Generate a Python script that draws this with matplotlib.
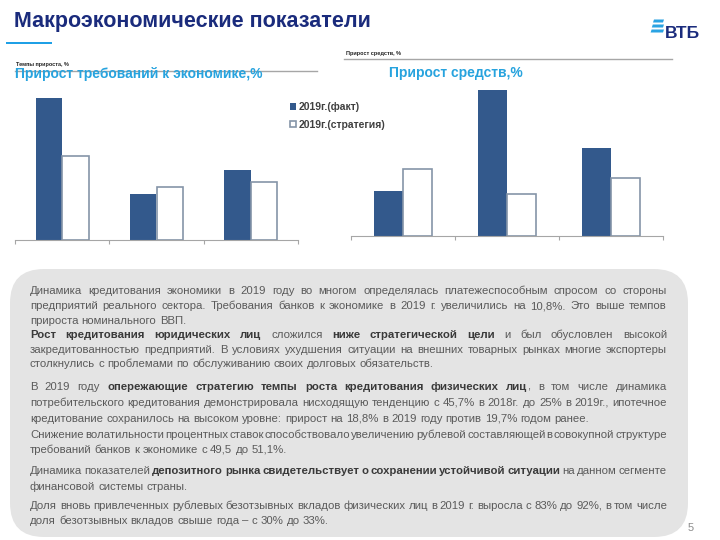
import matplotlib
matplotlib.use('Agg')
import matplotlib.pyplot as plt
from matplotlib import font_manager as fm
from matplotlib.patches import FancyBboxPatch, Rectangle, Polygon
import numpy as np

# data (no value labels in the original)
groups = ['Всего', 'Юридические лица', 'Физические лица']
series_labels = ['2019г.(факт)', '2019г.(стратегия)']
claims_fact = [22.0, 7.2, 10.8]
claims_plan = [13.1, 8.2, 9.0]
funds_fact = [4.5, 14.6, 8.8]
funds_plan = [6.7, 4.2, 5.8]

title = 'Макроэкономические показатели'
left_title = 'Прирост требований к экономике,%'
right_title = 'Прирост средств,%'

# text block: list of lines, each line = list of (text, bold); justify flag
body = [
    ([('Динамика кредитования экономики в 2019 году во многом определялась платежеспособным спросом со стороны', False)], True),
    ([('предприятий реального сектора. Требования банков к экономике в 2019 г. увеличились на 10,8%. Это выше темпов', False)], True),
    ([('прироста номинального ВВП.', False)], False),
    ([('Рост кредитования юридических лиц', True), (' сложился ', False), ('ниже стратегической цели', True),
      (' и был обусловлен высокой', False)], True),
    ([('закредитованностью предприятий. В условиях ухудшения ситуации на внешних товарных рынках многие экспортеры', False)], True),
    ([('столкнулись с проблемами по обслуживанию своих долговых обязательств.', False)], False),
    ([('В 2019 году ', False), ('опережающие стратегию темпы роста кредитования физических лиц', True),
      (', в том числе динамика', False)], True),
    ([('потребительского кредитования демонстрировала нисходящую тенденцию с 45,7% в 2018г. до 25% в 2019г., ипотечное', False)], True),
    ([('кредитование сохранилось на высоком уровне: прирост на 18,8% в 2019 году против 19,7% годом ранее.', False)], False),
    ([('Снижение волатильности процентных ставок способствовало увеличению рублевой составляющей в совокупной структуре', False)], True),
    ([('требований банков к экономике с 49,5 до 51,1%.', False)], False),
    ([('Динамика показателей ', False), ('депозитного рынка свидетельствует о сохранении устойчивой ситуации', True),
      (' на данном сегменте', False)], True),
    ([('финансовой системы страны.', False)], False),
    ([('Доля вновь привлеченных рублевых безотзывных вкладов физических лиц в 2019 г. выросла с 83% до 92%, в том числе', False)], True),
    ([('доля безотзывных вкладов свыше года – с 30% до 33%.', False)], False),
]
line_y = [290, 305.5, 320, 334, 349, 363.5, 386, 402, 418, 434, 449, 470, 486, 505, 520]


def has_font(name):
    try:
        fm.findfont(fm.FontProperties(family=name), fallback_to_default=False)
        return True
    except ValueError:
        return False


NARROW = has_font('Liberation Sans Narrow')
BODY_FONT = 'Liberation Sans Narrow' if NARROW else 'Liberation Sans'
BODY_FS = 9.6 if NARROW else 8.2
plt.rcParams['font.family'] = ['Liberation Sans', 'DejaVu Sans']

DARK = '#33598c'
EDGE = '#8595a8'
NAVY = '#1a2b7c'
SKY = '#27a3de'
GREY_LINE = '#a6a6a6'

W, H = 720, 540
fig = plt.figure(figsize=(7.2, 5.4), dpi=100)


def px_axes(x0, y0, x1, y1):
    # pixel box (top-left origin) -> figure axes
    return fig.add_axes([x0 / W, 1 - y1 / H, (x1 - x0) / W, (y1 - y0) / H])


# overlay for the slide decorations and text
ov = fig.add_axes([0, 0, 1, 1])
ov.set_xlim(0, W)
ov.set_ylim(H, 0)
ov.axis('off')

ov.text(14, 21, title, fontsize=15.5, fontweight='bold', color=NAVY, va='center', ha='left')
ov.add_patch(Rectangle((6, 41.5), 46, 2.8, color='#1fa0e6', lw=0))

# VTB logo
for k, yy in enumerate([19.5, 24.5, 29.5]):
    ov.add_patch(Polygon([(654 - k * 1.2, yy), (664, yy), (663, yy + 3), (653 - k * 1.2, yy + 3)],
                         closed=True, color='#2aa3e3', lw=0))
ov.text(665, 33, 'ВТБ', fontsize=15 if NARROW else 12.5, fontweight='bold', color=NAVY,
        family='Liberation Sans Narrow' if NARROW else 'Liberation Sans', va='center', ha='left')

# grey rules and small headers
ov.plot([15, 317], [70.7, 70.7], color=GREY_LINE, lw=1)
ov.plot([344, 672], [59, 59], color=GREY_LINE, lw=1)
ov.text(16, 64.5, 'Темпы прироста, %', fontsize=4, fontweight='bold', color='#222222', va='center')
ov.text(346, 53, 'Прирост средств, %', fontsize=4, fontweight='bold', color='#222222', va='center')
ov.text(15, 74, left_title, fontsize=10, fontweight='bold', color=SKY, va='center', ha='left')
ov.text(389, 73, right_title, fontsize=10, fontweight='bold', color=SKY, va='center', ha='left')

# text box
ov.add_patch(FancyBboxPatch((10 + 34, 269 + 34), 678 - 68, 268 - 68,
                            boxstyle='round,pad=34', fc='#e4e4e4', ec='none'))
ov.text(691, 528, '5', fontsize=8, color='#8c8c8c', va='center', ha='center')

renderer = fig.canvas.get_renderer()
X0, X1 = 30, 667
for (segs, justify), y in zip(body, line_y):
    tokens = []
    prev = ' '
    for txt, bold in segs:
        glue = len(tokens) > 0 and not txt.startswith(' ') and not prev.endswith(' ')
        for i, wd in enumerate(txt.split()):
            tokens.append((wd, bold, glue and i == 0))
        prev = txt
    arts, widths = [], []
    for wd, bold, _ in tokens:
        t = ov.text(0, y + 3.6, wd, fontsize=BODY_FS, family=BODY_FONT,
                    fontweight='bold' if bold else 'normal',
                    color='#3a3a3a' if bold else '#5a5a5a', va='baseline', ha='left')
        arts.append(t)
        widths.append(t.get_window_extent(renderer).width)
    ngaps = sum(1 for tk in tokens[1:] if not tk[2])
    if justify and ngaps:
        gap = (X1 - X0 - sum(widths)) / ngaps
    else:
        gap = BODY_FS * 100 / 72 * 0.28
    x = X0
    for k, (t, w) in enumerate(zip(arts, widths)):
        if k > 0 and not tokens[k][2]:
            x += gap
        t.set_x(x)
        x += w


def bar_chart(ax, fact, plan, ymax):
    idx = np.arange(len(groups))
    bw = 0.28
    b1 = ax.bar(idx - bw / 2, fact, bw, color=DARK, lw=0, label=series_labels[0])
    b2 = ax.bar(idx + bw / 2, plan, bw, color='white', edgecolor=EDGE, lw=1.2,
                label=series_labels[1])
    ax.set_xlim(-0.5, len(groups) - 0.5)
    ax.set_ylim(0, ymax)
    for s in ['top', 'right', 'left']:
        ax.spines[s].set_visible(False)
    ax.spines['bottom'].set_color(GREY_LINE)
    ax.set_xticks(np.arange(len(groups) + 1) - 0.5)
    ax.set_xticklabels([])
    ax.tick_params(axis='x', length=3, color=GREY_LINE, direction='out')
    ax.set_yticks([])
    ax.patch.set_alpha(0)
    return b1, b2


axl = px_axes(15, 90, 298, 240)
h1, h2 = bar_chart(axl, claims_fact, claims_plan, 23.3)
axr = px_axes(351, 86, 663, 236)
bar_chart(axr, funds_fact, funds_plan, 15.0)

fig.legend([h1, h2], series_labels, loc='upper left', bbox_to_anchor=(285 / W, 1 - 97 / H),
           frameon=False, handlelength=0.55, handleheight=0.55, handletextpad=0.3,
           labelspacing=0.7, borderpad=0, prop={'size': 7.5, 'weight': 'bold'},
           labelcolor='#404040')

fig.savefig('out.png', dpi=100)
